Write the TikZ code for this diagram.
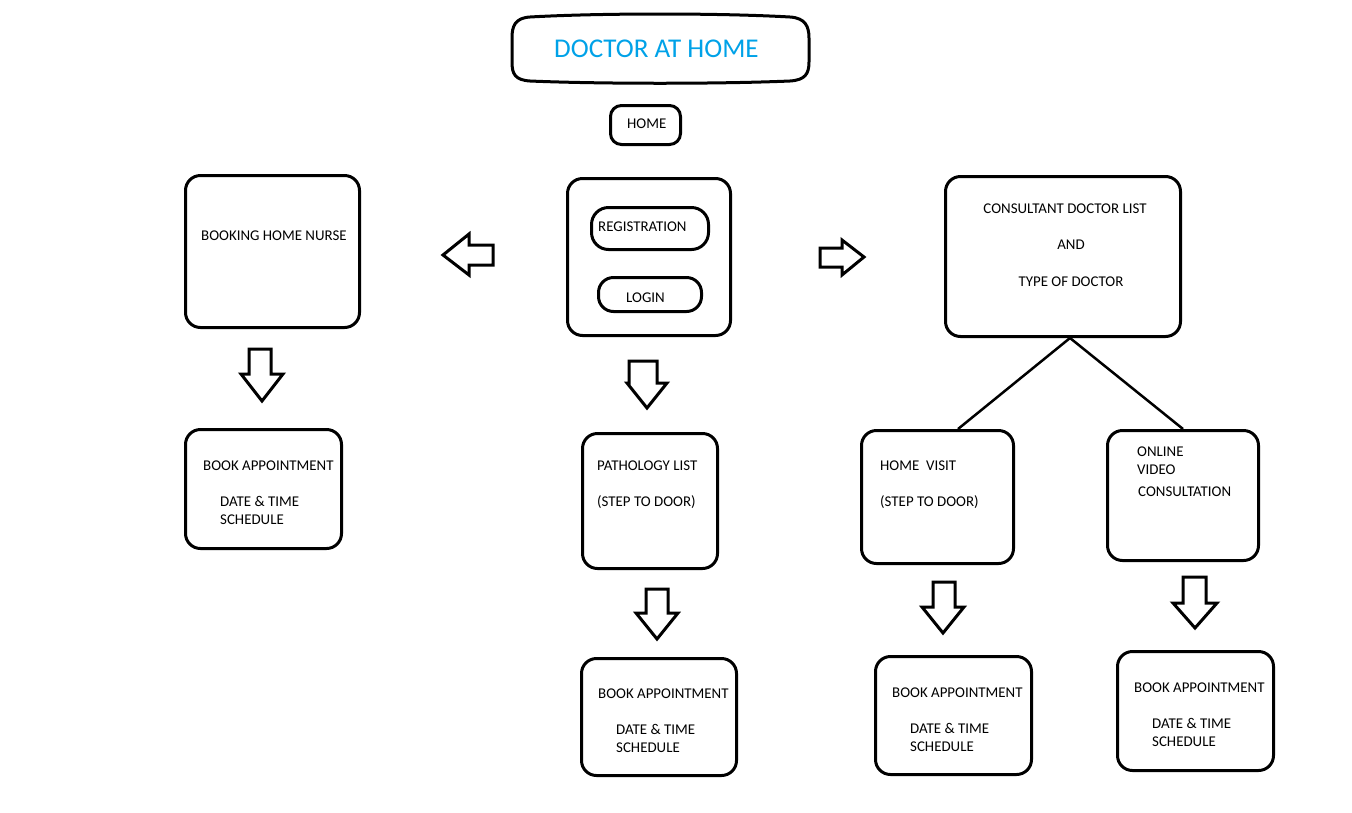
\documentclass[tikz,border=0pt]{standalone}
\usepackage{fontspec}
\setmainfont{Carlito}
\definecolor{titleblue}{RGB}{0,162,232}
\begin{document}
\begin{tikzpicture}[x=1pt,y=-1pt,
  box/.style={draw, line width=3pt, rounded corners=15pt, inner sep=0pt},
  lbl/.style={anchor=base west, inner sep=0pt, font=\fontsize{14.9}{16}\selectfont},
  clbl/.style={anchor=base, inner sep=0pt, font=\fontsize{14.9}{16}\selectfont},
  blockarrow/.style={draw, line width=3pt, line join=miter, fill=white},
  link/.style={draw, line width=2.5pt}]
\useasboundingbox[fill=white] (0,0) rectangle (1352,812);

% title
\draw[line width=3pt] (530,17) .. controls (600,13) and (720,13) .. (790,17)
  .. controls (805,18) and (809,26) .. (809,38) -- (809,62)
  .. controls (809,74) and (805,80) .. (790,81)
  .. controls (720,84) and (600,84) .. (530,81)
  .. controls (515,80) and (512,74) .. (512,62) -- (512,38)
  .. controls (512,26) and (515,18) .. (530,17) -- cycle;
\node[anchor=base west, inner sep=0pt, text=titleblue, font=\fontsize{27.1}{30}\selectfont] (title) at (554,57) {DOCTOR AT HOME};

% home
\node[box, rounded corners=11pt, minimum width=70pt, minimum height=39pt] (home) at (645.5,125) {};
\node[lbl] (homet) at (627,128) {HOME};

% auth box
\node[box, minimum width=163pt, minimum height=157pt] (auth) at (649,257) {};
\node[box, rounded corners=17pt, minimum width=117pt, minimum height=42pt] (reg) at (650,228.5) {};
\node[lbl] (regt) at (598,231) {REGISTRATION};
\node[box, rounded corners=15pt, minimum width=103pt, minimum height=34pt] (login) at (650,294.5) {};
\node[lbl] (logint) at (626,302) {LOGIN};

% left column
\node[box, minimum width=174pt, minimum height=152pt] (nurse) at (272.5,251.5) {};
\node[lbl] (nurset) at (201,240) {BOOKING HOME NURSE};
\node[box, minimum width=156pt, minimum height=119pt] (nbook) at (263.5,489) {};
\node[lbl] (nbook1) at (203,470) {BOOK APPOINTMENT};
\node[lbl] (nbook2) at (220,506) {DATE \& TIME};
\node[lbl] (nbook3) at (220,524) {SCHEDULE};

% centre column
\node[box, minimum width=135pt, minimum height=135pt] (path) at (650,501) {};
\node[lbl] (path1) at (597,470) {PATHOLOGY LIST};
\node[lbl] (path2) at (597,506) {(STEP TO DOOR)};
\node[box, minimum width=155pt, minimum height=117pt] (pbook) at (659,717) {};
\node[lbl] (pbook1) at (598,698) {BOOK APPOINTMENT};
\node[lbl] (pbook2) at (616,734) {DATE \& TIME};
\node[lbl] (pbook3) at (616,752) {SCHEDULE};

% right
\node[box, minimum width=235pt, minimum height=160pt] (cons) at (1063,256.5) {};
\node[clbl] (cons1) at (1065,213) {CONSULTANT DOCTOR LIST};
\node[clbl] (cons2) at (1071,249) {AND};
\node[clbl] (cons3) at (1071,286) {TYPE OF DOCTOR};
\node[box, minimum width=152pt, minimum height=133pt] (hv) at (937.5,497) {};
\node[lbl] (hv1) at (880,470) {HOME\ \ VISIT};
\node[lbl] (hv2) at (880,506) {(STEP TO DOOR)};
\node[box, minimum width=151pt, minimum height=130pt] (ov) at (1183,495.5) {};
\node[lbl] (ov1) at (1137,456) {ONLINE};
\node[lbl] (ov2) at (1137,474) {VIDEO};
\node[lbl] (ov3) at (1138,496) {CONSULTATION};
\node[box, minimum width=156pt, minimum height=118pt] (hbook) at (953.5,715.5) {};
\node[lbl] (hbook1) at (892,697) {BOOK APPOINTMENT};
\node[lbl] (hbook2) at (910,733) {DATE \& TIME};
\node[lbl] (hbook3) at (910,751) {SCHEDULE};
\node[box, minimum width=156pt, minimum height=119pt] (obook) at (1195.5,711) {};
\node[lbl] (obook1) at (1134,692) {BOOK APPOINTMENT};
\node[lbl] (obook2) at (1152,728) {DATE \& TIME};
\node[lbl] (obook3) at (1152,746) {SCHEDULE};

% connectors
\coordinate (apex) at (1070,338);
\path[link] (apex) -- ([xshift=20.5pt]hv.north);
\path[link] (apex) -- (ov.north);

% block arrows
\path[blockarrow] (443,255) -- (469,234) -- (469,245) -- (493,245) -- (493,265) -- (469,265) -- (469,275) -- cycle;
\path[blockarrow] (864,257) -- (842,240) -- (842,248) -- (820,248) -- (820,267) -- (842,267) -- (842,275) -- cycle;
\path[blockarrow] (647,408) -- (627,383) -- (629,383) -- (629,361) -- (657,361) -- (657,383) -- (667,383) -- cycle;
\path[blockarrow] (262,401) -- (241,374) -- (249,374) -- (249,349) -- (271,349) -- (271,374) -- (283,374) -- cycle;
\path[blockarrow] (657,639) -- (636,613) -- (646,613) -- (646,589) -- (668,589) -- (668,613) -- (678,613) -- cycle;
\path[blockarrow] (943,633) -- (922,607) -- (933,607) -- (933,582) -- (955,582) -- (955,607) -- (964,607) -- cycle;
\path[blockarrow] (1195,628) -- (1173,603) -- (1183,603) -- (1183,577) -- (1206,577) -- (1206,603) -- (1217,603) -- cycle;
\end{tikzpicture}
\end{document}
